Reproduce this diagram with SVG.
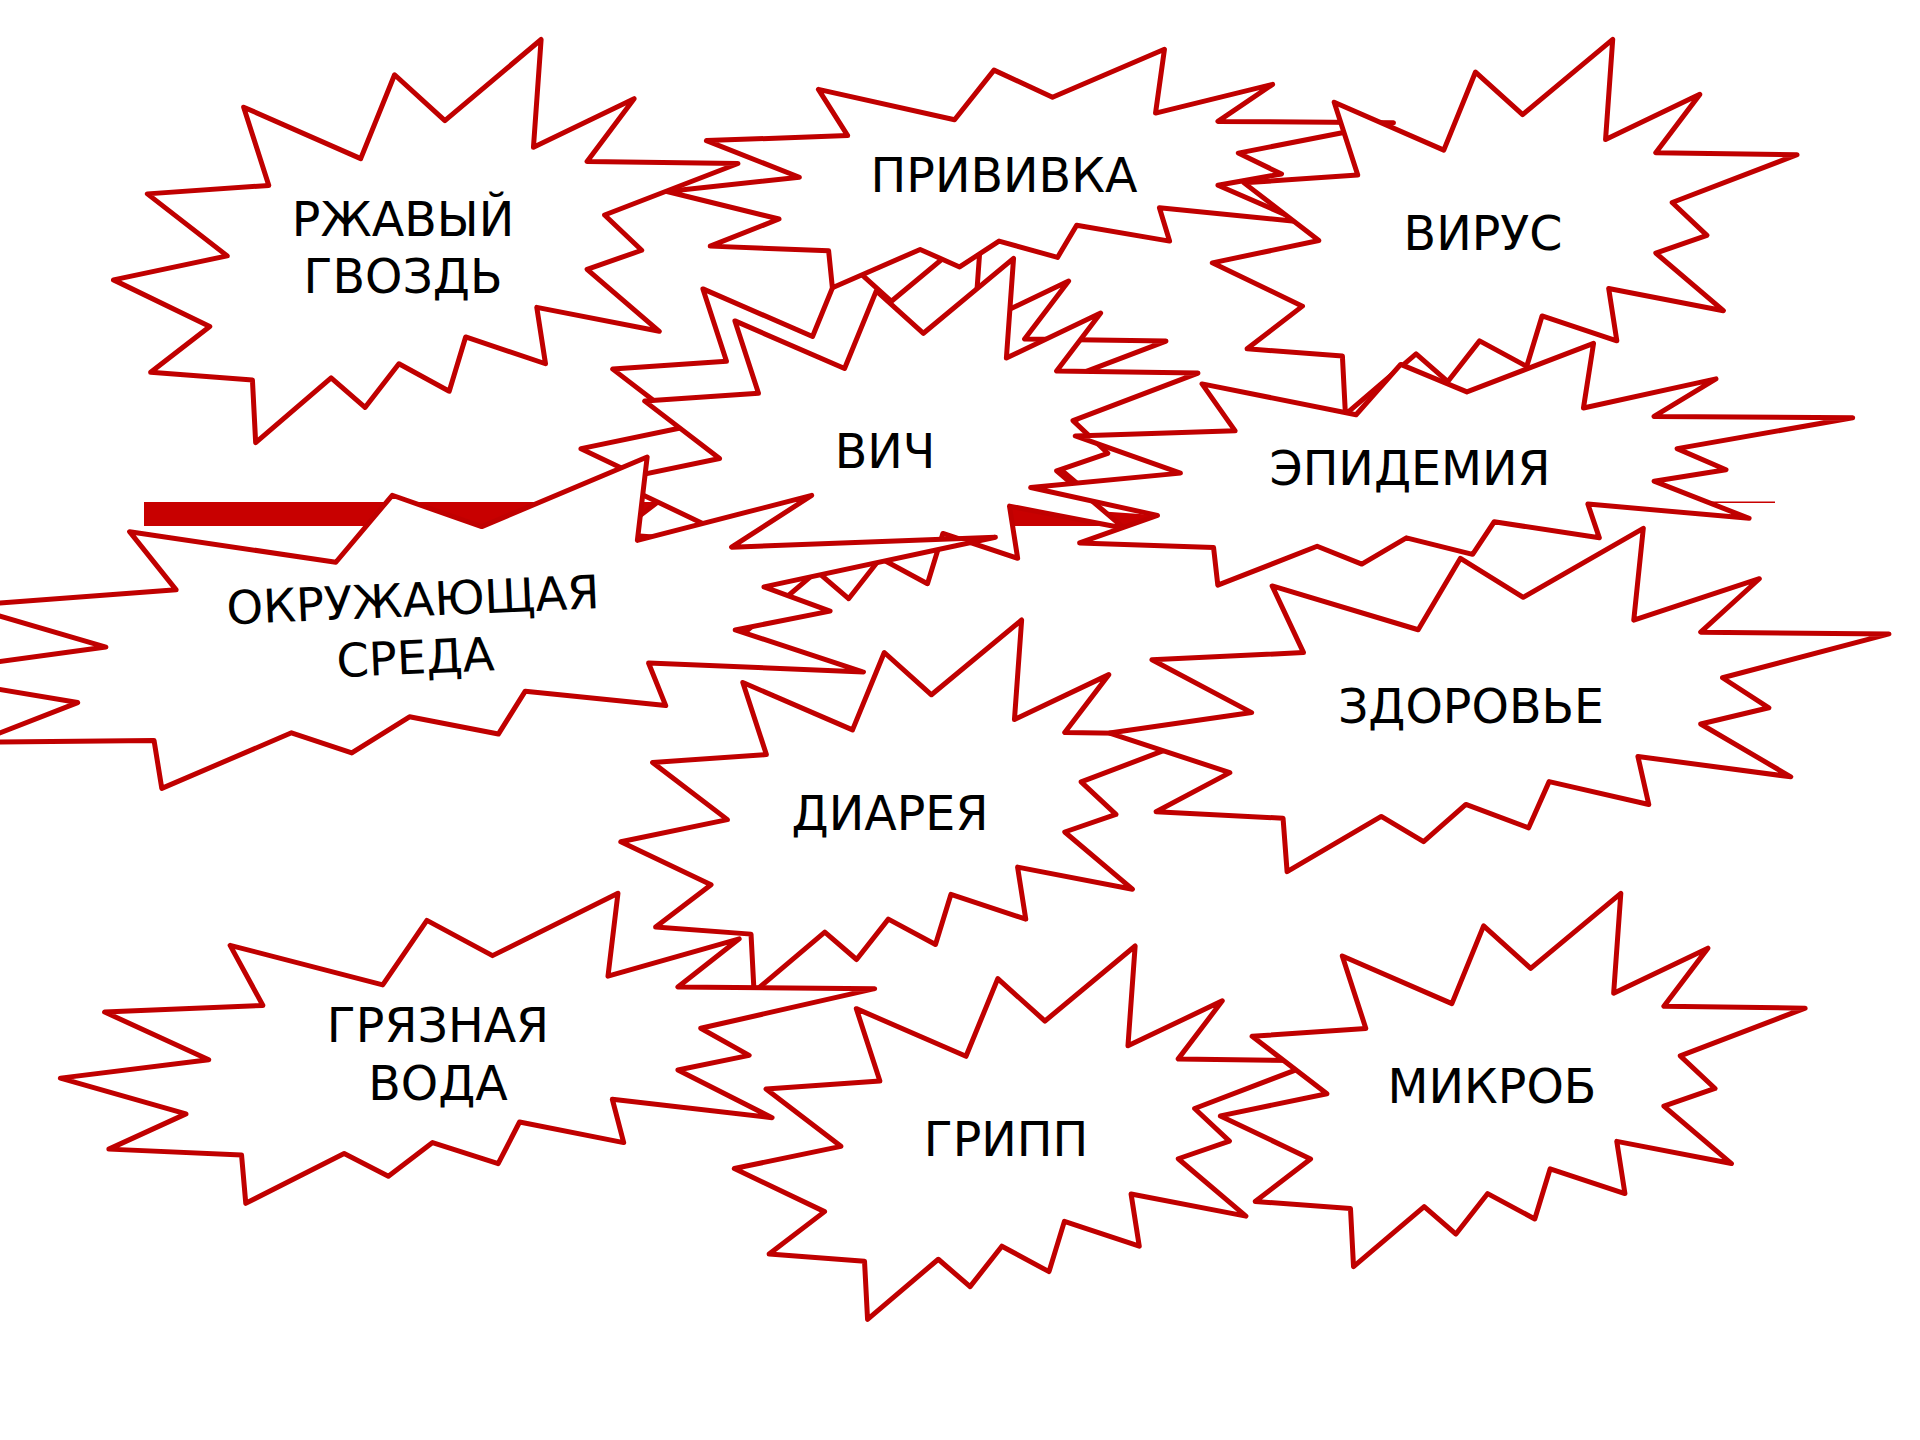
<svg xmlns="http://www.w3.org/2000/svg" xmlns:xlink="http://www.w3.org/1999/xlink" width="1920" height="1440" viewBox="0 0 1920 1440">
  <defs>
    <style>
      .seal { fill: #ffffff; stroke: #c00000; stroke-width: 5; stroke-linejoin: round; vector-effect: non-scaling-stroke; }
      .lbl { font-family: "DejaVu Sans", "Noto Sans", sans-serif; font-size: 47.5px; fill: #000000; text-anchor: middle; }
      .lbl-s { font-size: 46.5px; }
    </style>
    <!-- explosion outline in a 21600 x 21600 box -->
    <path id="seal" class="seal" d="M11462 4342 L14790 0 L14525 5777 L18007 3172 L16380 6532 L21600 6645 L16985 9402 L18270 11290 L16380 12310 L18877 15632 L14640 14350 L14942 17370 L12180 15935 L11612 18842 L9872 17370 L8700 19712 L7527 18125 L4917 21600 L4805 18240 L1285 17825 L3330 15370 L0 12877 L3935 11592 L1172 8270 L5372 7817 L4502 3625 L8550 6382 L9722 1887 Z"/>
  </defs>
  <rect width="1920" height="1440" fill="#ffffff"/>

  <!-- connectors -->
  <g id="connectors">
    <polygon points="144,502 960,502 960,501.5 1158,515.3 1128,526 144,526" fill="#c80000"/>
    <line x1="1100" y1="502.3" x2="1775" y2="502.3" stroke="#c80000" stroke-width="1.5"/>
  </g>

  <g id="node-vich-back">
    <use href="#seal" transform="translate(581 226.3) scale(0.027083 0.017269)"/>
  </g>

  <g id="node-vich">
    <use href="#seal" transform="translate(613 258.3) scale(0.027083 0.017269)"/>
    <text class="lbl" x="885" y="468">ВИЧ</text>
  </g>

  <g id="node-privivka">
    <use href="#seal" transform="translate(667 49.3) scale(0.033634 0.011042)"/>
    <text class="lbl" x="1004" y="192">ПРИВИВКА</text>
  </g>

  <g id="node-rzhavyi-gvozd">
    <use href="#seal" transform="translate(113.5 39.5) scale(0.028912 0.018667)"/>
    <text class="lbl" x="403" y="236">РЖАВЫЙ</text>
    <text class="lbl" x="403" y="293">ГВОЗДЬ</text>
  </g>

  <g id="node-virus">
    <use href="#seal" transform="translate(1212.3 39.3) scale(0.027074 0.017361)"/>
    <text class="lbl" x="1483" y="250">ВИРУС</text>
  </g>

  <g id="node-epidemiya">
    <use href="#seal" transform="translate(1030.7 343.3) scale(0.038056 0.011199)"/>
    <text class="lbl" x="1410" y="485">ЭПИДЕМИЯ</text>
  </g>

  <g id="node-okruzhayushchaya-sreda" transform="translate(452.3 620.6) rotate(-2.5)">
    <use href="#seal" transform="translate(-546.25 -154.9) scale(0.050579 0.014343)"/>
    <text class="lbl lbl-s" x="-38.5" y="-6">ОКРУЖАЮЩАЯ</text>
    <text class="lbl lbl-s" x="-38.5" y="51.5">СРЕДА</text>
  </g>

  <g id="node-diareya">
    <use href="#seal" transform="translate(620.8 620) scale(0.027102 0.017222)"/>
    <text class="lbl" x="890" y="830">ДИАРЕЯ</text>
  </g>

  <g id="node-zdorovye">
    <use href="#seal" transform="translate(1109.7 528.3) scale(0.036079 0.015898)"/>
    <text class="lbl" x="1471" y="723">ЗДОРОВЬЕ</text>
  </g>

  <g id="node-gryaznaya-voda">
    <use href="#seal" transform="translate(60.4 893.3) scale(0.037699 0.014352)"/>
    <text class="lbl" x="438" y="1042">ГРЯЗНАЯ</text>
    <text class="lbl" x="438" y="1100">ВОДА</text>
  </g>

  <g id="node-gripp">
    <use href="#seal" transform="translate(734.3 946) scale(0.027102 0.017282)"/>
    <text class="lbl" x="1006" y="1156">ГРИПП</text>
  </g>

  <g id="node-mikrob">
    <use href="#seal" transform="translate(1220.4 893.3) scale(0.027074 0.017287)"/>
    <text class="lbl" x="1492" y="1103">МИКРОБ</text>
  </g>
</svg>
